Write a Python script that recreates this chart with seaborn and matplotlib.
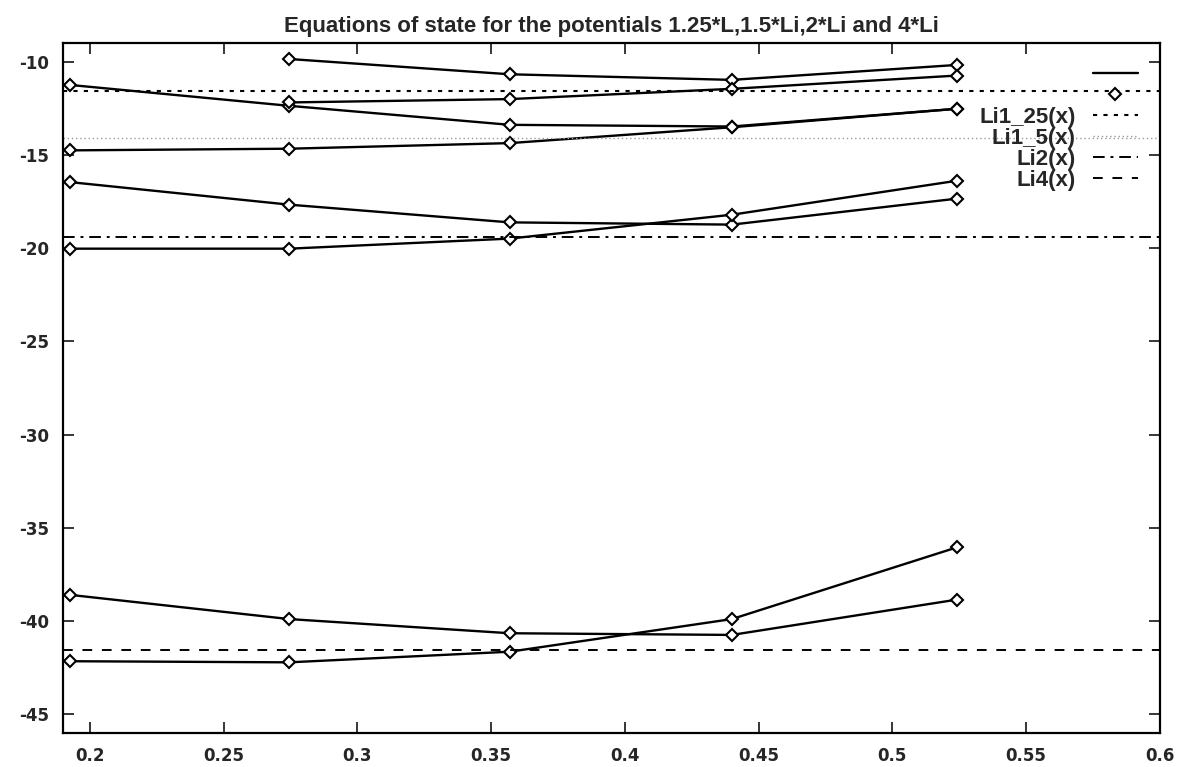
import pandas as pd
import numpy as np
import matplotlib
matplotlib.use("Agg")
import matplotlib.pyplot as plt
from matplotlib.lines import Line2D
import seaborn as sns

# densities (x) and energies per series
x_vals = [0.1925, 0.2745, 0.357, 0.44, 0.524]
series = {
    "a": [np.nan, -9.86, -10.68, -10.98, -10.18],
    "b": [-11.25, -12.37, -13.39, -13.48, -12.53],
    "c": [np.nan, -12.19, -12.01, -11.46, -10.75],
    "d": [-14.76, -14.67, -14.37, -13.52, -12.53],
    "e": [-16.46, -17.67, -18.62, -18.74, -17.35],
    "f": [-20.03, -20.03, -19.49, -18.21, -16.39],
    "g": [-38.59, -39.89, -40.65, -40.74, -38.85],
    "h": [-42.15, -42.21, -41.64, -39.89, -36.05],
}
# constant reference lines
li_labels = ["Li1_25(x)", "Li1_5(x)", "Li2(x)", "Li4(x)"]
li_values = [-11.57, -14.10, -19.40, -41.53]

title = "Equations of state for the potentials 1.25*L,1.5*Li,2*Li and 4*Li"
x_ticks = [0.2, 0.25, 0.3, 0.35, 0.4, 0.45, 0.5, 0.55, 0.6]
y_ticks = [-45, -40, -35, -30, -25, -20, -15, -10]

rows = []
for name, ys in series.items():
    for xv, yv in zip(x_vals, ys):
        if not np.isnan(yv):
            rows.append({"series": name, "x": xv, "E": yv})
df = pd.DataFrame(rows)

sns.set_style("ticks")
plt.rcParams["font.family"] = ["Liberation Sans", "DejaVu Sans"]
plt.rcParams["axes.unicode_minus"] = False

fig = plt.figure(figsize=(11.8, 7.67), dpi=100)
ax = fig.add_axes([0.0534, 0.0443, 0.9296, 0.8997])

sns.lineplot(data=df, x="x", y="E", units="series", estimator=None,
             color="black", linewidth=1.7, marker="D", markersize=6.5,
             markerfacecolor="white", markeredgecolor="black",
             markeredgewidth=1.5, ax=ax, legend=False)

styles = [
    dict(color="black", linestyle=(0, (2, 3)), linewidth=1.5),
    dict(color="#9a9a9a", linestyle=(0, (1, 2)), linewidth=1.0),
    dict(color="black", linestyle=(0, (6, 3, 1.5, 3)), linewidth=1.4),
    dict(color="black", linestyle=(0, (5, 5)), linewidth=1.4),
]
for val, st in zip(li_values, styles):
    ax.axhline(val, **st)

ax.set_xlim(0.19, 0.6)
ax.set_ylim(-46, -9)
ax.set_xticks(x_ticks)
ax.set_xticklabels(["0.2", "0.25", "0.3", "0.35", "0.4", "0.45", "0.5", "0.55", "0.6"])
ax.set_yticks(y_ticks)
ax.set_xlabel("")
ax.set_ylabel("")
ax.tick_params(direction="in", length=8, width=1.3, top=True, right=True,
               labelsize=12)
ax.tick_params(axis="x", pad=10)
ax.tick_params(axis="y", pad=10)
for lab in ax.get_xticklabels() + ax.get_yticklabels():
    lab.set_fontweight("bold")
    lab.set_family("DejaVu Sans")
for sp in ax.spines.values():
    sp.set_linewidth(1.6)
    sp.set_color("black")
ax.set_title(title, fontsize=16, fontweight="bold", pad=8)

handles = [Line2D([], [], color="black", linewidth=1.7),
           Line2D([], [], linestyle="none", marker="D", markersize=6.5,
                  markerfacecolor="white", markeredgecolor="black",
                  markeredgewidth=1.5)]
handles += [Line2D([], [], **st) for st in styles]
labels = ["", ""] + li_labels
leg = ax.legend(handles, labels, loc="upper right", markerfirst=False,
                frameon=False, prop={"size": 16, "weight": "bold"},
                handlelength=2.0, labelspacing=0.0, borderaxespad=0.6,
                handletextpad=0.8)

fig.savefig("out.png", dpi=100)
